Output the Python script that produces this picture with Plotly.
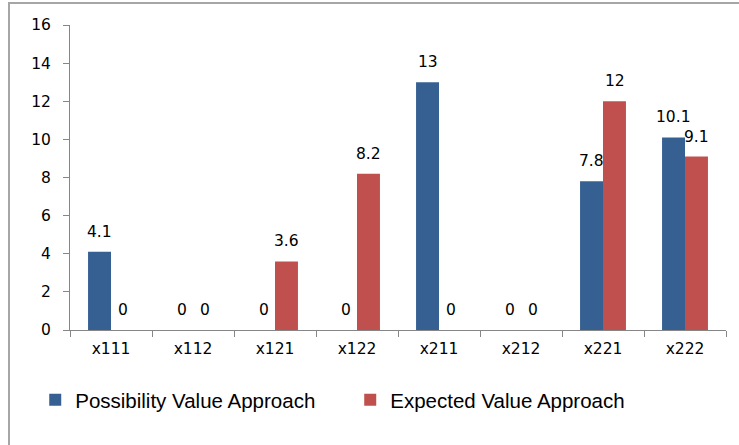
import plotly.graph_objects as go

categories = ["x111", "x112", "x121", "x122", "x211", "x212", "x221", "x222"]
possibility = [4.1, 0, 0, 0, 13, 0, 7.8, 10.1]
expected = [0, 0, 3.6, 8.2, 0, 0, 12, 9.1]
y_ticks = [0, 2, 4, 6, 8, 10, 12, 14, 16]

blue = "#376092"
red = "#C0504D"
tfont = dict(family="DejaVu Sans", size=15.5, color="#000")

fig = go.Figure()
fig.add_trace(go.Bar(
    x=categories, y=possibility, name="Possibility Value Approach",
    marker=dict(color=blue, line=dict(width=0)),
))
fig.add_trace(go.Bar(
    x=categories, y=expected, name="Expected Value Approach",
    marker=dict(color=red, line=dict(width=0)),
))

annotations = []
for vals, dx in ((possibility, -11.5), (expected, 11.5)):
    for c, v in zip(categories, vals):
        annotations.append(dict(
            x=c, y=v, xref="x", yref="y", text=f"{v:g}", showarrow=False,
            xshift=dx, yshift=9, yanchor="bottom", xanchor="center",
            font=tfont,
        ))

fig.update_layout(
    width=739, height=445,
    margin=dict(l=70, r=13, t=25, b=115, autoexpand=False),
    paper_bgcolor="white", plot_bgcolor="white",
    barmode="group", bargap=0.44, bargroupgap=0,
    showlegend=True,
    legend=dict(orientation="h", x=-0.053, xanchor="left", y=-0.164, yanchor="top",
                font=dict(family="Liberation Sans", size=20.5, color="#000"),
                entrywidth=270, entrywidthmode="pixels", itemwidth=30,
                traceorder="normal"),
    annotations=annotations,
    shapes=[dict(type="rect", xref="paper", yref="paper",
                 x0=-61/656, x1=1.1, y0=-1.2, y1=1 + 22/305,
                 line=dict(color="#A6A6A6", width=2), fillcolor="rgba(0,0,0,0)",
                 layer="below")],
)
fig.update_xaxes(
    type="category", showline=True, linecolor="#868686", linewidth=1,
    ticks="outside", tickson="boundaries", ticklen=6, tickcolor="#868686",
    tickfont=tfont, ticklabelstandoff=4,
    showgrid=False, zeroline=False,
)
fig.update_yaxes(
    range=[0, 16], tickvals=y_ticks, showline=True, linecolor="#868686", linewidth=1,
    ticks="outside", ticklen=6, tickcolor="#868686",
    tickfont=tfont, ticklabelstandoff=9,
    showgrid=False, zeroline=False,
)

fig.write_html("out.html", config={"displayModeBar": False},
               post_script="document.body.style.margin='0px';")
